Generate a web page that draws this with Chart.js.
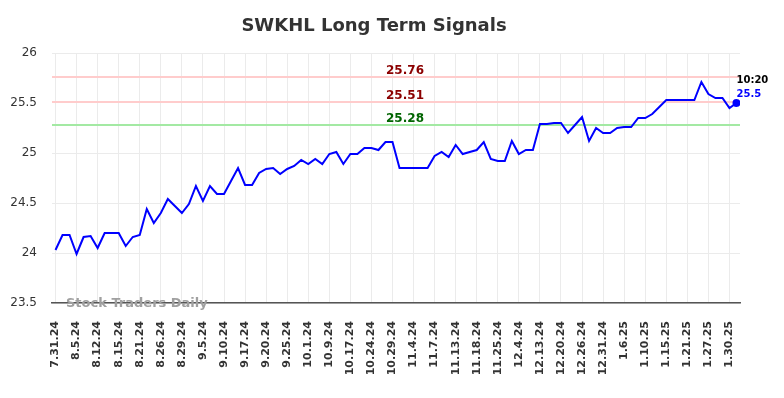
<!DOCTYPE html>
<html lang="en">
<head>
  <meta charset="UTF-8">
  <title>SWKHL Long Term Signals</title>
  <script src="https://cdn.jsdelivr.net/npm/chart.js"></script>
  <style>
    body { margin: 0; background: #fff; }
    canvas { display: block; }
  </style>
</head>
<body>
  <canvas id="signalChart" width="784" height="398"></canvas>

  <script>
    // tick labels, one every 3 trading days
    const tickLabels = ['7.31.24', '8.5.24', '8.12.24', '8.15.24', '8.21.24', '8.26.24', '8.29.24', '9.5.24',
      '9.10.24', '9.17.24', '9.20.24', '9.25.24', '10.1.24', '10.9.24', '10.17.24', '10.24.24', '10.29.24',
      '11.4.24', '11.7.24', '11.13.24', '11.18.24', '11.25.24', '12.4.24', '12.13.24', '12.20.24', '12.26.24',
      '12.31.24', '1.6.25', '1.10.25', '1.15.25', '1.21.25', '1.27.25', '1.30.25'];

    const prices = [24.03, 24.18, 24.18, 23.99, 24.16, 24.17, 24.05, 24.20, 24.20, 24.20,
      24.07, 24.16, 24.18, 24.44, 24.30, 24.40, 24.54, 24.47, 24.40, 24.49,
      24.67, 24.52, 24.67, 24.59, 24.59, 24.72, 24.85, 24.68, 24.68, 24.80,
      24.84, 24.85, 24.79, 24.84, 24.87, 24.93, 24.89, 24.94, 24.89, 24.99,
      25.01, 24.89, 24.99, 24.99, 25.05, 25.05, 25.03, 25.11, 25.11, 24.85,
      24.85, 24.85, 24.85, 24.85, 24.97, 25.01, 24.96, 25.08, 24.99, 25.01,
      25.03, 25.11, 24.94, 24.92, 24.92, 25.12, 24.99, 25.03, 25.03, 25.29,
      25.29, 25.30, 25.30, 25.20, 25.28, 25.36, 25.12, 25.25, 25.20, 25.20,
      25.25, 25.26, 25.26, 25.35, 25.35, 25.39, 25.46, 25.53, 25.53, 25.53,
      25.53, 25.53, 25.71, 25.59, 25.55, 25.55, 25.45, 25.50];

    const resistLevels = [25.76, 25.51];
    const supportLevels = [25.28];
    const lastTime = '10:20';
    const lastPrice = '25.5';

    const FONT = 'DejaVu Sans';
    const lastIdx = prices.length - 1;

    function levelLine(v, color) {
      return {
        data: [{ x: -0.5, y: v }, { x: lastIdx + 0.5, y: v }],
        borderColor: color,
        borderWidth: 2,
        pointRadius: 0,
        tension: 0
      };
    }

    // title, level labels, watermark and last price tag
    const annotations = {
      id: 'annotations',
      afterDatasetsDraw(chart) {
        const c = chart.ctx;
        const x = chart.scales.x;
        const y = chart.scales.y;
        c.save();

        c.fillStyle = '#333';
        c.font = 'bold 18px ' + FONT;
        c.textAlign = 'center';
        c.textBaseline = 'middle';
        c.fillText('SWKHL Long Term Signals', 374, 26);

        c.font = 'bold 12px ' + FONT;
        c.textBaseline = 'alphabetic';
        resistLevels.forEach(v => {
          c.fillStyle = '#8b0000';
          c.fillText(v.toFixed(2), 405, y.getPixelForValue(v) - 3);
        });
        supportLevels.forEach(v => {
          c.fillStyle = '#006400';
          c.fillText(v.toFixed(2), 405, y.getPixelForValue(v) - 3);
        });

        c.font = 'bold 13px ' + FONT;
        c.textAlign = 'left';
        c.fillStyle = '#a0a0a0';
        c.fillText('Stock Traders Daily', 66, 307);

        const px = x.getPixelForValue(lastIdx);
        const py = y.getPixelForValue(prices[lastIdx]);
        c.font = 'bold 10px ' + FONT;
        c.fillStyle = '#000';
        c.fillText(lastTime, px, py - 20);
        c.fillStyle = '#0000ff';
        c.fillText(lastPrice, px, py - 6);
        c.restore();
      }
    };

    new Chart(document.getElementById('signalChart'), {
      type: 'line',
      data: {
        datasets: [
          {
            data: prices.map((v, i) => ({ x: i, y: v })),
            borderColor: '#0000ff',
            backgroundColor: '#0000ff',
            borderWidth: 2,
            tension: 0,
            pointRadius: ctx => ctx.dataIndex === lastIdx ? 3 : 0,
            pointBackgroundColor: '#0000ff',
            pointBorderColor: '#0000ff'
          },
          ...resistLevels.map(v => levelLine(v, '#ffcccc')),
          ...supportLevels.map(v => levelLine(v, '#a3e9a3'))
        ]
      },
      options: {
        responsive: false,
        animation: false,
        devicePixelRatio: 1,
        layout: { padding: { top: 53, right: 44, left: 0, bottom: 0 } },
        plugins: {
          legend: { display: false },
          title: { display: false },
          tooltip: { enabled: false }
        },
        scales: {
          x: {
            type: 'linear',
            min: -0.5,
            max: lastIdx + 0.5,
            afterBuildTicks: scale => {
              scale.ticks = tickLabels.map((_, i) => ({ value: i * 3 }));
            },
            afterFit: scale => { scale.height = 95; },
            grid: { color: '#ebebeb', drawTicks: false },
            border: { display: true, color: '#555', width: 1.5 },
            ticks: {
              autoSkip: false,
              minRotation: 90,
              maxRotation: 90,
              padding: 18,
              color: '#333',
              font: { family: FONT, size: 11, weight: 'bold' },
              callback: v => tickLabels[v / 3]
            }
          },
          y: {
            min: 23.5,
            max: 26,
            afterFit: scale => { scale.width = 52; },
            grid: { color: '#ebebeb', drawTicks: false },
            border: { display: false },
            ticks: {
              stepSize: 0.5,
              padding: 15,
              color: '#333',
              font: { family: FONT, size: 12 },
              callback: v => String(Number(v.toFixed(1)))
            }
          }
        }
      },
      plugins: [annotations]
    });
  </script>
</body>
</html>
